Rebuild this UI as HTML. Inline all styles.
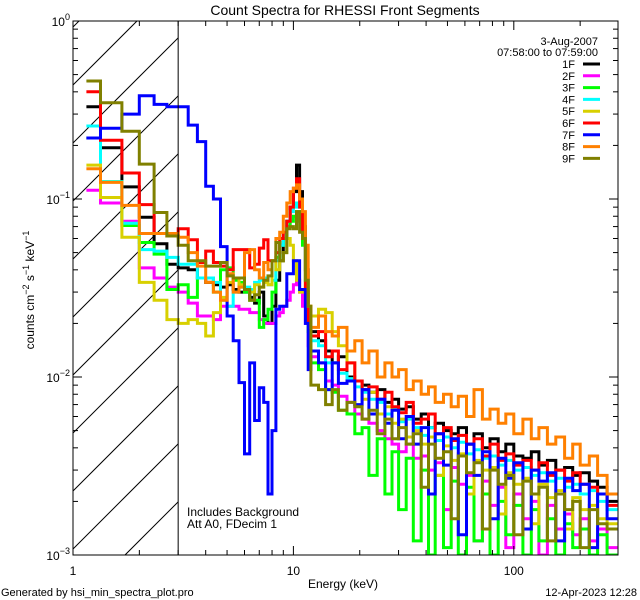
<!DOCTYPE html>
<html><head><meta charset="utf-8"><style>
html,body{margin:0;padding:0;background:#fff;width:640px;height:600px;overflow:hidden;}
svg{display:block;font-family:"Liberation Sans",sans-serif;}
</style></head><body>
<svg id="chart" width="640" height="600" viewBox="0 0 640 600" xmlns="http://www.w3.org/2000/svg">
<rect x="0" y="0" width="640" height="600" fill="#fff"/>
<defs><clipPath id="plotclip"><rect x="73" y="21" width="545" height="534"/></clipPath></defs>
<g id="hatch"></g>
<g id="series" clip-path="url(#plotclip)"></g>
<g id="axes"></g>
<text x="345" y="15" font-size="14" text-anchor="middle">Count Spectra for RHESSI Front Segments</text>
<text x="343" y="588" font-size="12" text-anchor="middle">Energy (keV)</text>
<text transform="translate(34,290) rotate(-90)" font-size="12" text-anchor="middle">counts cm<tspan dy="-5" font-size="9">−2</tspan><tspan dy="5"> s</tspan><tspan dy="-5" font-size="9">−1</tspan><tspan dy="5"> keV</tspan><tspan dy="-5" font-size="9">−1</tspan></text>
<text x="187" y="516" font-size="12">Includes Background</text>
<text x="187" y="528" font-size="12">Att A0, FDecim 1</text>
<text x="1" y="596" font-size="11">Generated by hsi_min_spectra_plot.pro</text>
<text x="637" y="596" font-size="11" text-anchor="end">12-Apr-2023 12:28</text>
<text x="598" y="45" font-size="11" text-anchor="end">3-Aug-2007</text>
<text x="598" y="56" font-size="11" text-anchor="end">07:58:00 to 07:59:00</text>
<g id="legend"></g>
</svg>
<script>
const edges = [1.15,1.3333,1.6667,2,2.3333,2.6667,3,3.3333,3.6667,4,4.3333,4.6667,5,5.3333,5.6667,6,6.3333,6.6667,7,7.3333,7.6667,8,8.3333,8.6667,9,9.3333,9.6667,10,10.3333,10.6667,11,11.3333,11.6667,12,13,14,15,16,17.5,19,20.5,22,24,26,28,30,32.5,35,38,41,44,48,52,56,61,66,72,78,85,92,100,110,120,130,142,155,170,185,200,220,240,265,295];
const seriesNames = ["1F","2F","3F","4F","5F","6F","7F","8F","9F"];
const seriesColors = ["#000000","#ff00ff","#00ff00","#00ffff","#d8d000","#ff0000","#0000ff","#ff8000","#808000"];
const s1F = [0.33,0.194,0.117,0.079,0.056,0.043, 0.041,0.040,0.036,0.034,0.033,0.032,0.033,0.031,0.030,0.030,0.028,0.026,0.030,0.022,0.020,0.025,0.035,0.045,0.060,0.075,0.090,0.110,0.155,0.110,0.070,0.040,0.022,
 0.018,0.016,0.014,0.012,0.013,0.010,0.0095,0.009,0.0082,0.0085,0.0072,0.0075,0.0066,0.0068,0.0058,0.0062,0.0052,0.0055,0.005,0.0048,0.0052,0.0042,0.0048,0.004,0.0045,0.0038,0.0042,0.0036,0.0035,0.0038,0.0032,0.0034,0.003,0.0031,0.0028,0.0029,0.0026,0.0024,0.002];
const s2F = [0.112,0.095,0.075,0.041,0.036,0.032, 0.030,0.026,0.022,0.022,0.021,0.025,0.025,0.025,0.024,0.024,0.023,0.023,0.021,0.020,0.020,0.020,0.022,0.023,0.025,0.027,0.030,0.033,0.035,0.030,0.025,0.020,0.015,
 0.013,0.012,0.0095,0.009,0.0078,0.0072,0.0062,0.0058,0.0055,0.005,0.0045,0.0042,0.0038,0.0042,0.0035,0.0036,0.003,0.0033,0.0018,0.0031,0.0025,0.0028,0.0012,0.0026,0.0019,0.0024,0.0011,0.0022,0.0016,0.002,0.0009,0.0019,0.0014,0.0017,0.0013,0.0016,0.0012,0.0014,0.0011];
const s3F = [0.22,0.125,0.071,0.057,0.049,0.031, 0.033,0.028,0.036,0.036,0.030,0.040,0.041,0.035,0.034,0.030,0.027,0.027,0.019,0.021,0.024,0.030,0.047,0.055,0.060,0.070,0.075,0.080,0.085,0.075,0.055,0.030,0.018,
 0.012,0.011,0.0085,0.0082,0.0065,0.0062,0.0048,0.0052,0.0028,0.0045,0.0022,0.0038,0.0018,0.0035,0.0012,0.003,0.0009,0.0028,0.0011,0.0026,0.0008,0.0024,0.0012,0.0022,0.0009,0.002,0.0013,0.0019,0.0009,0.0018,0.0012,0.0016,0.0008,0.0015,0.0011,0.0014,0.0009,0.0013,0.001];
const s4F = [0.257,0.125,0.073,0.052,0.051,0.047, 0.043,0.043,0.036,0.036,0.034,0.027,0.025,0.030,0.032,0.032,0.031,0.034,0.035,0.036,0.033,0.035,0.045,0.055,0.065,0.075,0.085,0.090,0.095,0.090,0.060,0.035,0.020,
 0.016,0.015,0.012,0.012,0.0105,0.0098,0.0088,0.0082,0.0075,0.0072,0.0062,0.0066,0.0056,0.0058,0.0052,0.0047,0.0052,0.0044,0.0046,0.004,0.0043,0.0037,0.0039,0.0035,0.0036,0.0032,0.0034,0.003,0.0031,0.0028,0.0029,0.0026,0.0027,0.0024,0.0025,0.0022,0.0023,0.002,0.0018];
const s5F = [0.155,0.102,0.061,0.034,0.027,0.021, 0.020,0.021,0.020,0.017,0.023,0.028,0.034,0.036,0.033,0.031,0.030,0.033,0.032,0.034,0.033,0.045,0.040,0.045,0.050,0.060,0.055,0.045,0.035,0.030,0.030,0.030,0.025,
 0.022,0.024,0.023,0.018,0.015,0.012,0.0095,0.0075,0.0082,0.0062,0.0068,0.0055,0.0058,0.0046,0.005,0.0042,0.0046,0.0028,0.0041,0.0034,0.0037,0.0022,0.0034,0.003,0.0031,0.0017,0.0029,0.0025,0.0027,0.0015,0.0025,0.0021,0.0023,0.0014,0.0021,0.0018,0.0019,0.0016,0.0015];
const s6F = [0.40,0.214,0.14,0.093,0.064,0.062, 0.068,0.059,0.044,0.051,0.044,0.042,0.040,0.052,0.052,0.052,0.041,0.043,0.053,0.059,0.045,0.045,0.050,0.060,0.065,0.075,0.090,0.115,0.130,0.090,0.060,0.030,0.020,
 0.017,0.018,0.013,0.014,0.011,0.012,0.0095,0.0085,0.0088,0.0075,0.0082,0.0068,0.0063,0.0072,0.0055,0.0058,0.0062,0.0048,0.0052,0.0044,0.0047,0.0042,0.0045,0.0036,0.0042,0.0034,0.0037,0.0032,0.0034,0.003,0.0033,0.0028,0.003,0.0026,0.0029,0.0025,0.0024,0.0022,0.0019];
const s7F = [0.22,0.25,0.30,0.38,0.34,0.33, 0.33,0.26,0.21,0.118,0.1,0.054,0.022,0.016,0.0093,0.0037,0.012,0.0057,0.0087,0.0072,0.0022,0.005,0.024,0.025,0.025,0.038,0.038,0.045,0.045,0.031,0.031,0.02,0.011,
 0.014,0.012,0.0085,0.012,0.0092,0.0095,0.007,0.0085,0.0062,0.0075,0.0055,0.0065,0.0045,0.006,0.0042,0.0052,0.0022,0.0048,0.0032,0.0045,0.0013,0.0042,0.0028,0.0038,0.0016,0.0035,0.0027,0.0033,0.0014,0.003,0.0026,0.0029,0.0012,0.0027,0.0023,0.0025,0.0011,0.0022,0.0016];
const s8F = [0.148,0.124,0.092,0.064,0.064,0.064, 0.061,0.050,0.042,0.034,0.030,0.027,0.038,0.030,0.032,0.050,0.052,0.040,0.036,0.044,0.040,0.045,0.060,0.065,0.080,0.095,0.110,0.115,0.120,0.100,0.085,0.055,0.025,
 0.019,0.022,0.018,0.017,0.019,0.014,0.016,0.012,0.014,0.010,0.012,0.010,0.011,0.0085,0.0095,0.008,0.0088,0.0072,0.008,0.0068,0.0078,0.006,0.0085,0.0058,0.0066,0.0055,0.0062,0.0048,0.0058,0.0045,0.0052,0.0042,0.0046,0.0035,0.0042,0.0032,0.0036,0.0028,0.0022];
const s9F = [0.46,0.347,0.24,0.157,0.084,0.062, 0.055,0.045,0.045,0.042,0.042,0.044,0.037,0.036,0.036,0.031,0.027,0.029,0.032,0.035,0.037,0.045,0.057,0.045,0.050,0.068,0.070,0.068,0.085,0.065,0.060,0.035,0.025,
 0.009,0.0085,0.007,0.0085,0.0065,0.0072,0.0068,0.0058,0.0065,0.0048,0.0058,0.0045,0.0052,0.0042,0.0048,0.0024,0.0042,0.0035,0.0038,0.0016,0.0036,0.0029,0.0033,0.0014,0.003,0.0025,0.0028,0.0013,0.0026,0.0022,0.0024,0.0012,0.0022,0.0018,0.002,0.0011,0.0018,0.0015,0.0014];
const seriesValues = [s1F,s2F,s3F,s4F,s5F,s6F,s7F,s8F,s9F];
const xTickLabels = ["1","10","100"];
const yTickExps = ["0","−1","−2","−3"];

const NS = "http://www.w3.org/2000/svg";
const L = 73, R = 618, T = 21, B = 555;
const xMin = 1, xMax = 297, yMin = 0.001, yMax = 1;
function xs(e){ return L + (Math.log10(e) - Math.log10(xMin)) / (Math.log10(xMax) - Math.log10(xMin)) * (R - L); }
function ys(v){ v = Math.max(v, 1e-3); return T + (Math.log10(yMax) - Math.log10(v)) / (Math.log10(yMax) - Math.log10(yMin)) * (B - T); }
function mk(tag, attrs, parent){ const el = document.createElementNS(NS, tag); for (const k in attrs) el.setAttribute(k, attrs[k]); parent.appendChild(el); return el; }

const hatch = document.getElementById("hatch");
const hx1 = 73, hx2 = xs(3);
for (let c = 100 - 58*3; c < 800; c += 58) {
  const xa = Math.max(hx1, c - B), xb = Math.min(hx2, c - T);
  if (xb <= xa) continue;
  const ln = mk("line", {x1: xa, y1: c - xa, x2: xb, y2: c - xb, stroke: "#000", "stroke-width": 1}, hatch);
  
  
}

const sg = document.getElementById("series");
seriesValues.forEach((vals, si) => {
  let d = "";
  for (let i = 0; i < vals.length; i++) {
    const x0 = xs(edges[i]), x1 = Math.min(xs(edges[i+1]), R), y = ys(vals[i]);
    d += (i === 0 ? "M" : "L") + x0.toFixed(1) + "," + y.toFixed(1) + "L" + x1.toFixed(1) + "," + y.toFixed(1);
  }
  const p = mk("path", {d: d, fill: "none", stroke: seriesColors[si], "stroke-width": 3, "stroke-linejoin": "miter"}, sg);
  
  
});

const ax = document.getElementById("axes");
const frame = mk("rect", {x: L, y: T, width: R - L, height: B - T, fill: "none", stroke: "#000", "stroke-width": 1}, ax);


const vline = mk("line", {x1: xs(3), y1: T, x2: xs(3), y2: B, stroke: "#000", "stroke-width": 1}, ax);


for (let dec = 1; dec <= 100; dec *= 10) {
  for (let m = 1; m <= 9; m++) {
    const e = dec * m; if (e > xMax) break;
    const x = xs(e), len = (m === 1) ? 9 : 5;
    const t1 = mk("line", {x1: x, y1: B, x2: x, y2: B - len, stroke: "#000"}, ax);
    
    
    const t2 = mk("line", {x1: x, y1: T, x2: x, y2: T + len, stroke: "#000"}, ax);
    
    
  }
}
xTickLabels.forEach((lab, i) => {
  const t = mk("text", {x: xs(Math.pow(10, i)), y: 575, "font-size": 12, "text-anchor": "middle"}, ax);
  t.textContent = lab;
  
  
});
for (let ex = -3; ex < 0; ex++) {
  for (let m = 1; m <= 9; m++) {
    const v = Math.pow(10, ex) * m, y = ys(v), len = (m === 1) ? 9 : 5;
    const t1 = mk("line", {x1: L, y1: y, x2: L + len, y2: y, stroke: "#000"}, ax);
    
    
    const t2 = mk("line", {x1: R, y1: y, x2: R - len, y2: y, stroke: "#000"}, ax);
    
    
  }
}
yTickExps.forEach((exp, i) => {
  const y = ys(Math.pow(10, -i));
  const t = mk("text", {x: 70, y: y + 5, "font-size": 12, "text-anchor": "end"}, ax);
  
  
  const base = document.createElementNS(NS, "tspan"); base.textContent = "10"; t.appendChild(base);
  const sup = document.createElementNS(NS, "tspan"); sup.setAttribute("dy", "-6"); sup.setAttribute("font-size", "9"); sup.textContent = exp; t.appendChild(sup);
});

const lg = document.getElementById("legend");
seriesNames.forEach((nm, i) => {
  const y = 64 + i * 11.8;
  const t = mk("text", {x: 575, y: y + 4, "font-size": 11, "text-anchor": "end"}, lg);
  t.textContent = nm;
  
  
  const l = mk("line", {x1: 583, y1: y, x2: 600, y2: y, stroke: seriesColors[i], "stroke-width": 3}, lg);
  
  
});
</script>
</body></html>
